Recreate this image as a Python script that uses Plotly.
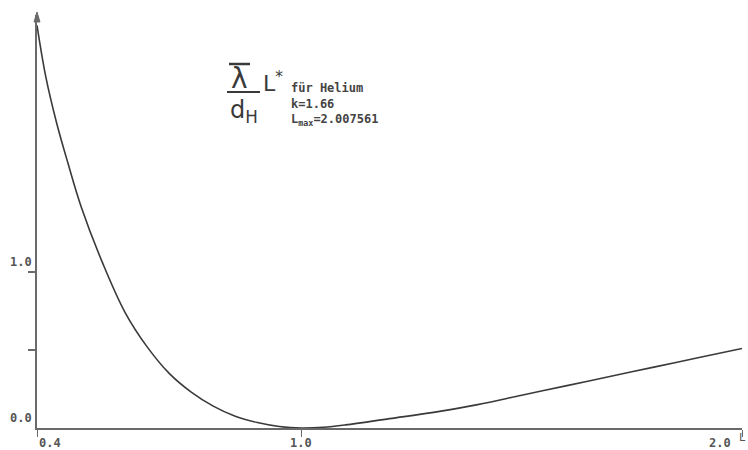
import plotly.graph_objects as go

# Reduced characteristic length L and the curve value read along it
L_values = [0.40, 0.42, 0.445, 0.47, 0.50, 0.55, 0.60, 0.65, 0.70, 0.75, 0.80,
            0.85, 0.90, 0.95, 1.00, 1.05, 1.10, 1.20, 1.30, 1.40, 1.50, 1.60,
            1.70, 1.80, 1.90, 2.00]
curve_values = [2.58, 2.25, 1.95, 1.70, 1.42, 1.05, 0.74, 0.52, 0.35, 0.23, 0.14,
                0.075, 0.035, 0.01, 0.0, 0.005, 0.02, 0.06, 0.10, 0.15, 0.21, 0.27,
                0.33, 0.39, 0.45, 0.51]

x_ticks = [0.4, 1.0, 2.0]
x_tick_labels = ["0.4", "1.0", "2.0"]
y_ticks = [0.5, 1.0]
y_tick_labels = {0.0: "0.0", 1.0: "1.0"}

x_range = [0.4, 2.0]
y_range = [0.0, 2.647]

ink = "#3a3a3a"
axis_ink = "#6a6a6a"
label_ink = "#555"
mono = "DejaVu Sans Mono"

fig = go.Figure()
fig.add_trace(go.Scatter(
    x=L_values, y=curve_values, mode="lines",
    line=dict(color=ink, width=1.6, shape="spline", smoothing=1.0),
    hoverinfo="skip", showlegend=False,
))

annotations = []
# y tick labels sit just above their ticks
for v, txt in y_tick_labels.items():
    annotations.append(dict(
        x=0, xref="paper", xanchor="right", xshift=-3,
        y=v, yref="y", yanchor="middle", yshift=10,
        text="<b>%s</b>" % txt, showarrow=False,
        font=dict(family=mono, size=12, color=label_ink),
    ))
# x tick labels
x_anchor = {"0.4": ("left", 0), "1.0": ("center", 0), "2.0": ("right", -9)}
for v, txt in zip(x_ticks, x_tick_labels):
    anc, sh = x_anchor[txt]
    annotations.append(dict(
        x=v, xref="x", xanchor=anc, xshift=sh,
        y=0, yref="paper", yanchor="top", yshift=-6,
        text="<b>%s</b>" % txt, showarrow=False,
        font=dict(family=mono, size=12, color=label_ink),
    ))
# axis name at the right end of the L axis
annotations.append(dict(
    x=1, xref="paper", xanchor="right", xshift=6,
    y=0, yref="paper", yanchor="top", yshift=-1,
    text="L", showarrow=False,
    font=dict(family=mono, size=11, color=label_ink),
))


def px_x(px):
    return (px - 37) / 705.0


def px_y(py):
    return (428 - py) / 413.0


# Formula block: lambda-bar over d_H, times L*
annotations += [
    dict(x=px_x(239), y=px_y(78), xref="paper", yref="paper",
         xanchor="center", yanchor="middle", text="λ", showarrow=False,
         font=dict(family="DejaVu Sans", size=28, color=ink)),
    dict(x=px_x(244), y=px_y(111), xref="paper", yref="paper",
         xanchor="center", yanchor="middle",
         text="d<sub>H</sub>", showarrow=False,
         font=dict(family="DejaVu Sans", size=24, color=ink)),
    dict(x=px_x(261), y=px_y(82), xref="paper", yref="paper",
         xanchor="left", yanchor="middle",
         text="L<sup>*</sup>", showarrow=False,
         font=dict(family="DejaVu Sans", size=22, color=ink)),
    dict(x=px_x(289), y=px_y(104), xref="paper", yref="paper",
         xanchor="left", yanchor="middle", align="left",
         text="<b>für Helium</b><br><b>k=1.66</b><br>"
              "<b>L<sub>max</sub>=2.007561</b>",
         showarrow=False, font=dict(family=mono, size=12, color="#444")),
]

shapes = [
    # bar over lambda
    dict(type="line", xref="paper", yref="paper",
         x0=px_x(229), x1=px_x(250), y0=px_y(64), y1=px_y(64),
         line=dict(color=ink, width=2.5)),
    # fraction line
    dict(type="line", xref="paper", yref="paper",
         x0=px_x(227), x1=px_x(260), y0=px_y(92), y1=px_y(92),
         line=dict(color=ink, width=2)),
    # arrow head on top of the value axis
    dict(type="path", xref="paper", yref="paper",
         path="M %f %f L %f %f L %f %f Z" % (
             px_x(34), px_y(22), px_x(37), px_y(12), px_x(40), px_y(22)),
         fillcolor=axis_ink, line=dict(color=axis_ink, width=1)),
]

fig.update_layout(
    width=748, height=450,
    margin=dict(l=37, r=6, t=15, b=22),
    paper_bgcolor="white", plot_bgcolor="white",
    annotations=annotations, shapes=shapes,
    xaxis=dict(
        range=x_range, showgrid=False, zeroline=False,
        showline=True, linecolor=axis_ink, linewidth=1.5,
        tickvals=x_ticks, showticklabels=False,
        ticks="outside", ticklen=7, tickcolor=axis_ink, tickwidth=1.2,
    ),
    yaxis=dict(
        range=y_range, showgrid=False, zeroline=False,
        showline=True, linecolor=axis_ink, linewidth=1.5,
        tickvals=y_ticks, showticklabels=False,
        ticks="outside", ticklen=7, tickcolor=axis_ink, tickwidth=1.5,
    ),
)

fig.write_html("out.html")
